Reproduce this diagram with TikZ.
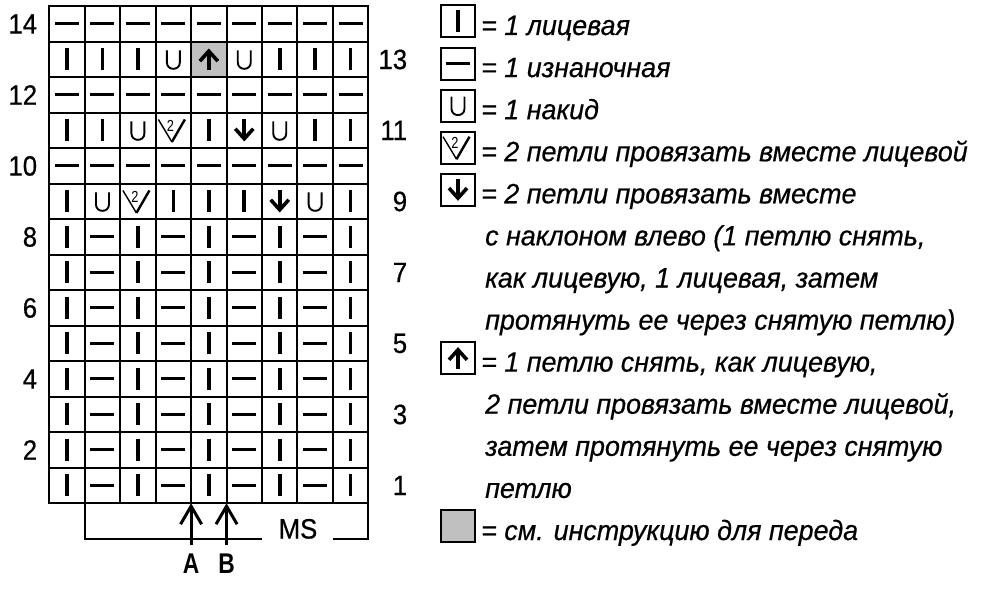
\documentclass[tikz,border=0pt]{standalone}
\usepackage{fontspec}
\setmainfont{Liberation Sans}[FakeStretch=0.92, UprightFeatures={FakeBold=0.5}]
\newfontfamily\legfont{Liberation Sans}[FakeStretch=0.96, ItalicFeatures={FakeBold=0.5}]
\newfontfamily\abfont{Liberation Sans}[FakeStretch=0.8]
\usetikzlibrary{arrows.meta,calc}
\definecolor{cellgray}{RGB}{192,192,192}
\begin{document}
\begin{tikzpicture}[x=1pt,y=-1pt,
  gridline/.style={line width=2pt},
  cell/.style={draw, line width=2pt, minimum width=35.45pt, minimum height=35.5pt, inner sep=0pt, outer sep=0pt},
  lbox/.style={draw, line width=2pt, minimum width=34pt, minimum height=32pt, inner sep=0pt},
  num/.style={font=\fontsize{28}{34}\selectfont, inner sep=0pt, anchor=east},
  legtext/.style={font=\fontsize{28}{34}\selectfont\legfont\itshape, inner sep=0pt, anchor=base west},
  letter/.style={font=\fontsize{28.5}{34}\selectfont\abfont\bfseries, anchor=base, inner sep=0pt},
  knit/.pic={\draw[line width=3.6pt] (0,-11) -- (0,11);},
  purl/.pic={\draw[line width=3pt] (-12,0) -- (12,0);},
  yo/.pic={\draw[line width=1.9pt] (-6.5,-9) -- (-6.5,3) .. controls (-6.5,11.5) and (6.5,11.5) .. (6.5,3) -- (6.5,-9);},
  ktwo/.pic={\draw[line width=1.4pt] (-15,-11) -- (-1.5,11.5);
             \draw[line width=2.4pt] (11.5,-11) -- (-1.5,11.5);
             \node[font=\fontsize{16}{16}\selectfont\abfont, inner sep=0pt] at (-3,-5) {2};},
  dnarrow/.pic={\draw[line width=3.6pt, -{Straight Barb[length=10pt,width=18pt,sharp]}] (0,-11) -- (0,11);},
  uparrow/.pic={\draw[line width=3.6pt, -{Straight Barb[length=10pt,width=18pt,sharp]}] (0,11) -- (0,-11);},
  botarrow/.style={line width=3pt, -{Straight Barb[length=18pt,width=21pt,sharp]}}
]
\useasboundingbox (0,0) rectangle (1000,594);

% grid cells
\foreach \r in {1,...,14} {
  \foreach \c in {1,...,9} {
    \node[cell] (r\r c\c) at ({49.3+(\c-0.5)*35.45},{6.2+(14.5-\r)*35.5}) {};
  }
}
\node[cell, fill=cellgray] (shade) at (r13c5) {};

% symbols rows 1-8
\foreach \r in {1,...,8} {
  \foreach \c in {1,3,5,7,9} {\pic at (r\r c\c) {knit};}
  \foreach \c in {2,4,6,8} {\pic at (r\r c\c) {purl};}
}
% purl rows
\foreach \r in {10,12,14} {
  \foreach \c in {1,...,9} {\pic at (r\r c\c) {purl};}
}
% row 9
\foreach \c in {1,4,5,6,9} {\pic at (r9c\c) {knit};}
\foreach \c in {2,8} {\pic at (r9c\c) {yo};}
\pic at (r9c3) {ktwo};
\pic at (r9c7) {dnarrow};
% row 11
\foreach \c in {1,2,5,8,9} {\pic at (r11c\c) {knit};}
\foreach \c in {3,7} {\pic at (r11c\c) {yo};}
\pic at (r11c4) {ktwo};
\pic at (r11c6) {dnarrow};
% row 13
\foreach \c in {1,2,3,7,8,9} {\pic at (r13c\c) {knit};}
\foreach \c in {4,6} {\pic at (r13c\c) {yo};}
\pic at (shade) {uparrow};

% row numbers
\foreach \r in {2,4,...,14} {\node[num] (ln\r) at ($(r\r c1.west)+(-12,0)$) {\r};}
\foreach \r in {1,3,...,13} {\node[num] (rn\r) at ($(r\r c9.east)+(39,0)$) {\r};}

% bracket and MS
\coordinate (bl) at (r1c2.south west);
\coordinate (br) at (r1c9.south east);
\node[font=\fontsize{28}{34}\selectfont, anchor=base, inner sep=0pt] (ms) at (298,538.5) {MS};
\draw[gridline] (bl) |- ([xshift=-16pt]ms.base west);
\draw[gridline] (br) |- ([xshift=15pt]ms.base east);

% A and B
\node[letter] (A) at ($(r1c4.south east)+(0,70)$) {A};
\node[letter] (B) at ($(r1c5.south east)+(0,70)$) {B};
\draw[botarrow] ($(A.north)+(0,-8)$) -- (r1c4.south east);
\draw[botarrow] ($(B.north)+(0,-8)$) -- (r1c5.south east);

% legend boxes
\node[lbox] (k1) at (458,21.5) {};  \pic at (k1) {knit};
\node[lbox] (k2) at (458,63.6) {};  \pic at (k2) {purl};
\node[lbox] (k3) at (458,105.7) {}; \pic at (k3) {yo};
\node[lbox] (k4) at (458,147.7) {}; \pic at (k4) {ktwo};
\node[lbox] (k5) at (458,189.8) {}; \pic at (k5) {dnarrow};
\node[lbox] (k9) at (458,358.1) {}; \pic at (k9) {uparrow};
\node[lbox, fill=cellgray] (k13) at (458,525.5) {};

% legend text
\node[legtext] (t1)  at (481,35)    {= 1 лицевая};
\node[legtext] (t2)  at (481,77.1)  {= 1 изнаночная};
\node[legtext] (t3)  at (481,119.2) {= 1 накид};
\node[legtext] (t4)  at (481,161.2) {= 2 петли провязать вместе лицевой};
\node[legtext] (t5)  at (481,203.3) {= 2 петли провязать вместе};
\node[legtext] (t6)  at (485,245.4) {с наклоном влево (1 петлю снять,};
\node[legtext] (t7)  at (485,287.5) {как лицевую, 1 лицевая, затем};
\node[legtext] (t8)  at (485,329.6) {протянуть ее через снятую петлю)};
\node[legtext] (t9)  at (481,371.6) {= 1 петлю снять, как лицевую,};
\node[legtext] (t10) at (485,413.7) {2 петли провязать вместе лицевой,};
\node[legtext] (t11) at (485,455.8) {затем протянуть ее через снятую};
\node[legtext] (t12) at (485,497.9) {петлю};
\node[legtext] (t13) at (481,540)   {= см. инструкцию для переда};
\end{tikzpicture}
\end{document}
